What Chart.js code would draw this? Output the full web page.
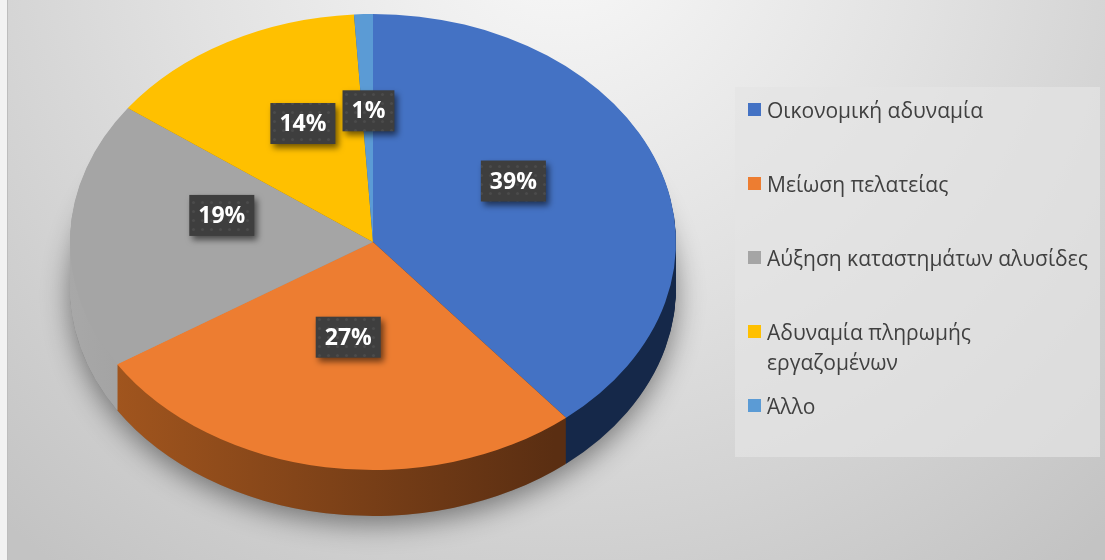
<!DOCTYPE html>
<html>
<head>
<meta charset="utf-8">
<script src="https://cdn.jsdelivr.net/npm/chart.js@4.4.1/dist/chart.umd.min.js"></script>
<style>
body{margin:0;background:#fff;}
#wrap{position:relative;width:1105px;height:560px;font-family:"Open Sans",sans-serif;}
#legend{position:absolute;left:735px;top:87px;width:365px;height:370px;background:rgba(228,228,228,0.7);}
.item{position:absolute;left:32px;color:#404040;font-size:21px;line-height:30px;white-space:nowrap;}
.sq{position:absolute;left:-19px;top:8px;width:13px;height:13px;}
</style>
</head>
<body>
<div id="wrap">
<canvas id="pie" width="1105" height="560"></canvas>
<div id="legend"></div>
</div>
<script>
const labels = ['Οικονομική αδυναμία', 'Μείωση πελατείας', 'Αύξηση καταστημάτων αλυσίδες', ['Αδυναμία πληρωμής', 'εργαζομένων'], 'Άλλο'];
const values = [39, 27, 19, 14, 1];
const colors = ['#4472C4', '#ED7D31', '#A5A5A5', '#FFC000', '#5B9BD5'];
const sideColors = [['#1c3260', '#152849'], ['#a8591f', '#5a2e12'], ['#a8a8a8', '#7c7c7c'], ['#b08600', '#8a6800'], ['#3a6d9c', '#2a5580']];

// where the tilted pie sits on the page
const CX = 373, CY = 242, RX = 303, RY = 228, DEPTH = 46;
const APEX_Y = 219, BULGE = 23;

function place(ctx, arc, dy) {
    ctx.translate(CX, CY + dy);
    ctx.scale(RX / arc.outerRadius, RY / arc.outerRadius);
    ctx.translate(-arc.x, -arc.y);
}
function drawArcAs(ctx, arc, fill) {
    const o = arc.options;
    arc.options = Object.assign({}, o, {backgroundColor: fill, borderWidth: 0});
    arc.draw(ctx);
    arc.options = o;
}

const dots = document.createElement('canvas');
dots.width = 9; dots.height = 9;
const dctx = dots.getContext('2d');
dctx.fillStyle = '#3e3e3e';
dctx.fillRect(0, 0, 9, 9);
dctx.fillStyle = '#4b4b4b';
dctx.beginPath(); dctx.arc(4.5, 4.5, 1.6, 0, Math.PI * 2); dctx.fill();

const pie3d = {
    id: 'pie3d',
    beforeDraw(chart) {
        const ctx = chart.ctx;
        const g = ctx.createRadialGradient(560, -80, 0, 560, -80, 820);
        g.addColorStop(0, '#f9f9f9');
        g.addColorStop(0.45, '#e2e2e2');
        g.addColorStop(1, '#c3c3c3');
        ctx.save();
        ctx.fillStyle = '#f2f2f2';
        ctx.fillRect(0, 0, 8, 560);
        ctx.fillStyle = g;
        ctx.fillRect(8, 0, 1097, 560);
        ctx.fillStyle = '#bdbdbd';
        ctx.fillRect(7, 0, 1, 560);
        ctx.restore();
    },
    beforeDatasetsDraw(chart) {
        const ctx = chart.ctx;
        const arcs = chart.getDatasetMeta(0).data;
        const a0 = arcs[0];
        const R = a0.outerRadius;
        // soft shadow under the pie
        ctx.save();
        place(ctx, a0, DEPTH);
        ctx.shadowColor = 'rgba(0,0,0,0.45)';
        ctx.shadowBlur = 28;
        ctx.shadowOffsetY = 8;
        ctx.fillStyle = '#808080';
        ctx.beginPath();
        ctx.arc(a0.x, a0.y, R, 0, Math.PI * 2);
        ctx.fill();
        ctx.restore();
        // side walls
        const fills = sideColors.map(c => {
            const g = ctx.createLinearGradient(a0.x - R, 0, a0.x + R * 0.6, 0);
            g.addColorStop(0, c[0]);
            g.addColorStop(1, c[1]);
            return g;
        });
        for (let d = DEPTH; d > 0; d--) {
            ctx.save();
            place(ctx, a0, d);
            arcs.forEach((arc, i) => drawArcAs(ctx, arc, fills[i]));
            ctx.restore();
        }
        // top face
        ctx.save();
        place(ctx, a0, 0);
        arcs.forEach(arc => arc.draw(ctx));
        ctx.restore();
        return false;
    },
    afterDraw(chart) {
        const ctx = chart.ctx;
        const arcs = chart.getDatasetMeta(0).data;
        const total = values.reduce((s, v) => s + v, 0);
        ctx.save();
        ctx.font = 'bold 23px "Open Sans"';
        ctx.textAlign = 'center';
        ctx.textBaseline = 'middle';
        arcs.forEach((arc, i) => {
            const mid = (arc.startAngle + arc.endAngle) / 2;
            const u = 0.5 * Math.cos(mid), v = 0.5 * Math.sin(mid);
            const x = CX + RX * u * (1 + 0.09 * v);
            const y = APEX_Y + RY * v + BULGE * v * v;
            const txt = Math.round(values[i] / total * 100) + '%';
            const w = ctx.measureText(txt).width + 18, h = 41;
            ctx.save();
            ctx.shadowColor = 'rgba(0,0,0,0.55)';
            ctx.shadowBlur = 6;
            ctx.shadowOffsetX = 3;
            ctx.shadowOffsetY = 4;
            ctx.fillStyle = ctx.createPattern(dots, 'repeat');
            ctx.fillRect(x - w / 2, y - h / 2, w, h);
            ctx.restore();
            ctx.fillStyle = '#ffffff';
            ctx.fillText(txt, x, y + 1);
        });
        ctx.restore();
    }
};

new Chart(document.getElementById('pie').getContext('2d'), {
    type: 'pie',
    data: {
        labels: labels,
        datasets: [{
            data: values,
            backgroundColor: colors,
            borderWidth: 0
        }]
    },
    options: {
        responsive: false,
        animation: false,
        events: [],
        layout: {padding: 20},
        plugins: {legend: {display: false}, tooltip: {enabled: false}}
    },
    plugins: [pie3d]
});

// legend box on the right
const legend = document.getElementById('legend');
labels.forEach((lab, i) => {
    const item = document.createElement('div');
    item.className = 'item';
    item.style.top = (8 + i * 74) + 'px';
    const sq = document.createElement('div');
    sq.className = 'sq';
    sq.style.background = colors[i];
    item.appendChild(sq);
    const lines = Array.isArray(lab) ? lab : [lab];
    lines.forEach((ln, k) => {
        if (k) item.appendChild(document.createElement('br'));
        item.appendChild(document.createTextNode(ln));
    });
    legend.appendChild(item);
});
</script>
</body>
</html>
